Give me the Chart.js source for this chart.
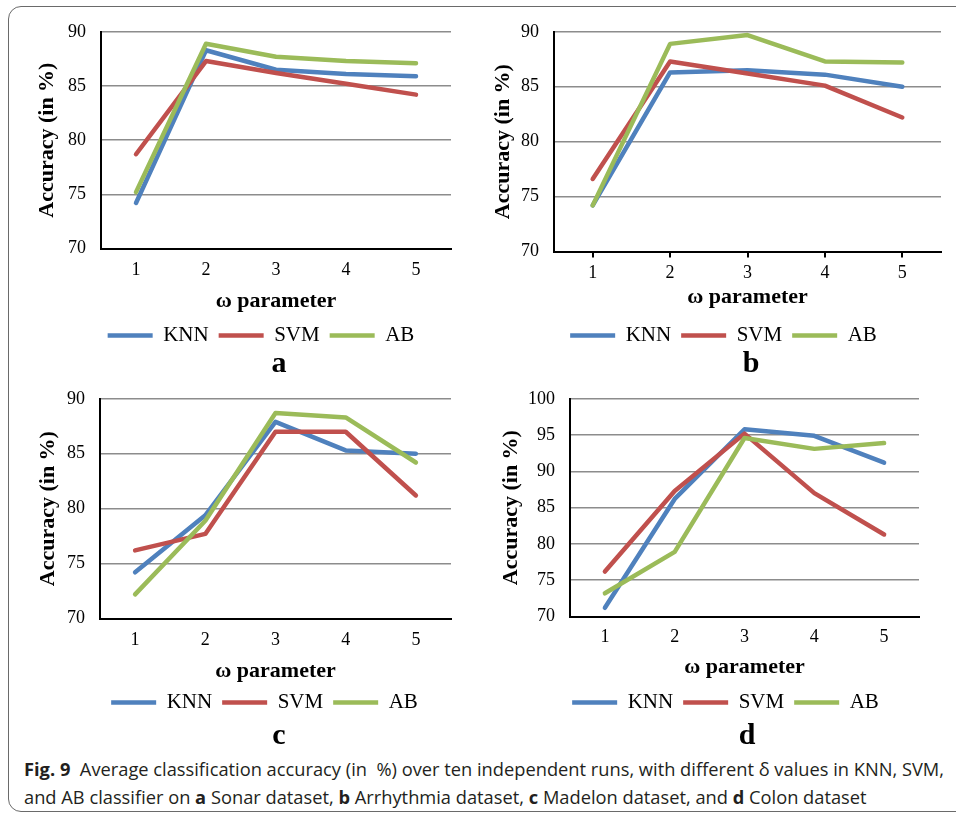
<!DOCTYPE html>
<html>
<head>
<meta charset="utf-8">
<script src="https://cdn.jsdelivr.net/npm/chart.js@4.4.0/dist/chart.umd.min.js"></script>
<style>
  body { margin: 0; background: #fff; width: 956px; height: 817px; overflow: hidden; position: relative; }
  #frame { position: absolute; left: 8px; top: 6px; width: 970px; height: 804px; border: 1.5px solid #6a6a6a; border-radius: 13px; }
  .panel { position: absolute; }
  .tag { position: absolute; font: bold 30px "Liberation Serif", "Times New Roman", serif; color: #000; transform: translate(-50%, -50%); }
  #cap { position: absolute; left: 24px; top: 756px; color: #231f20; font: 18.5px "Open Sans", sans-serif; white-space: nowrap; }
  #cap div { transform-origin: 0 0; height: 28px; line-height: 25px; }
</style>
</head>
<body>
<div id="frame"></div>
<canvas id="chartA" class="panel"></canvas>
<canvas id="chartB" class="panel"></canvas>
<canvas id="chartC" class="panel"></canvas>
<canvas id="chartD" class="panel"></canvas>
<div class="tag" style="left:279px; top:362px;">a</div>
<div class="tag" style="left:751px; top:362px;">b</div>
<div class="tag" style="left:279px; top:734px;">c</div>
<div class="tag" style="left:747px; top:734px;">d</div>
<div id="cap">
  <div id="cap1"><b>Fig. 9</b>&nbsp; Average classification accuracy (in &nbsp;%) over ten independent runs, with different δ values in KNN, SVM,</div>
  <div id="cap2">and AB classifier on <b>a</b> Sonar dataset, <b>b</b> Arrhythmia dataset, <b>c</b> Madelon dataset, and <b>d</b> Colon dataset</div>
</div>
<script>
// values
let omega = ['1', '2', '3', '4', '5']
let seriesNames = ['KNN', 'SVM', 'AB']

let sonarKNN = [74.2, 88.3, 86.5, 86.1, 85.9]
let sonarSVM = [78.7, 87.3, 86.2, 85.2, 84.2]
let sonarAB  = [75.2, 88.9, 87.7, 87.3, 87.1]

let arrhKNN = [74.2, 86.3, 86.5, 86.1, 85.0]
let arrhSVM = [76.6, 87.3, 86.2, 85.1, 82.2]
let arrhAB  = [74.2, 88.9, 89.7, 87.3, 87.2]

let madKNN = [74.2, 79.4, 87.9, 85.3, 85.0]
let madSVM = [76.2, 77.7, 87.0, 87.0, 81.2]
let madAB  = [72.2, 78.9, 88.7, 88.3, 84.2]

let colKNN = [71.2, 86.2, 95.8, 94.9, 91.2]
let colSVM = [76.2, 87.3, 95.2, 87.0, 81.3]
let colAB  = [73.2, 78.9, 94.6, 93.1, 93.9]

let yTicksLow  = [70, 75, 80, 85, 90]
let yTicksHigh = [70, 75, 80, 85, 90, 95, 100]

let colors = ['#4f81bd', '#c0504d', '#9bbb59']
let serif = '"Liberation Serif", "Times New Roman", serif'

function makeChart(id, series, yTicks, geo) {
    let cv = document.getElementById(id)
    cv.width = geo.w
    cv.height = geo.h
    cv.style.left = geo.x + 'px'
    cv.style.top = geo.y + 'px'

    let datasets = []
    for (let i = 0; i < series.length; i++) {
        datasets.push({
            label: seriesNames[i],
            data: series[i],
            borderColor: colors[i],
            backgroundColor: colors[i],
            borderWidth: 4.5,
            pointRadius: 0,
            tension: 0,
            borderCapStyle: 'round',
            borderJoinStyle: 'round',
            order: series.length - i
        })
    }

    // nudge the legend sideways, the printed one isn't centred on the canvas
    let legendShift = {
        id: 'legendShift',
        afterLayout(chart) {
            let lg = chart.legend
            let dx = geo.legendX - (lg.left + lg.right) / 2
            lg.left += dx
            lg.right += dx
        }
    }

    return new Chart(cv, {
        type: 'line',
        data: { labels: omega, datasets: datasets },
        plugins: [legendShift],
        options: {
            responsive: false,
            animation: false,
            layout: { padding: { top: 0, right: 6, bottom: 0, left: 0 } },
            plugins: {
                tooltip: { enabled: false },
                legend: {
                    position: 'bottom',
                    labels: {
                        usePointStyle: true,
                        pointStyle: 'line',
                        pointStyleWidth: 45,
                        boxHeight: 4,
                        padding: 10,
                        color: '#000',
                        font: { family: serif, size: 21 },
                        sort: (a, b) => a.datasetIndex - b.datasetIndex
                    }
                }
            },
            scales: {
                x: {
                    offset: true,
                    grid: {
                        display: geo.xTicks,
                        drawOnChartArea: false,
                        drawTicks: true,
                        tickLength: 6,
                        color: '#000',
                        lineWidth: 2
                    },
                    border: { display: true, color: '#000', width: 2 },
                    ticks: { color: '#000', padding: geo.xPad, font: { family: serif, size: 18 } },
                    title: {
                        display: true,
                        text: 'ω parameter',
                        color: '#000',
                        font: { family: serif, size: 22, weight: 'bold' },
                        padding: { top: 4, bottom: geo.titlePad }
                    },
                    afterFit: (s) => { s.height = geo.xH }
                },
                y: {
                    min: yTicks[0],
                    max: yTicks[yTicks.length - 1],
                    ticks: { stepSize: yTicks[1] - yTicks[0], color: '#000', padding: 15, font: { family: serif, size: 18 } },
                    grid: { color: '#8c8c8c', lineWidth: 1.5, drawTicks: false },
                    border: { display: true, color: '#000', width: 2 },
                    title: {
                        display: true,
                        text: 'Accuracy (in %)',
                        color: '#000',
                        font: { family: serif, size: 22, weight: 'bold' },
                        padding: 4
                    },
                    afterFit: (s) => { s.width = geo.yW }
                }
            }
        }
    })
}

makeChart('chartA', [sonarKNN, sonarSVM, sonarAB], yTicksLow,
    { x: 30, y: 6, w: 427, h: 350, yW: 71, xH: 66.5, xPad: 5, titlePad: 0.3, xTicks: false, legendX: 231 })
makeChart('chartB', [arrhKNN, arrhSVM, arrhAB], yTicksLow,
    { x: 486, y: 6, w: 461, h: 350, yW: 68, xH: 63.5, xPad: 5, titlePad: 4.3, xTicks: true, legendX: 237.5 })
makeChart('chartC', [madKNN, madSVM, madAB], yTicksLow,
    { x: 31, y: 373, w: 426, h: 350, yW: 69, xH: 63.5, xPad: 5, titlePad: -2.7, xTicks: false, legendX: 233.5 })
makeChart('chartD', [colKNN, colSVM, colAB], yTicksHigh,
    { x: 494, y: 373, w: 431, h: 350, yW: 76, xH: 65.5, xPad: 4, titlePad: 1.3, xTicks: false, legendX: 231.5 })

// squeeze the caption to the width of the printed line
let c1 = document.getElementById('cap1')
let c2 = document.getElementById('cap2')
let k = 920 / c1.getBoundingClientRect().width
c1.style.transform = 'scaleX(' + k + ')'
c2.style.transform = 'scaleX(' + k + ')'
</script>
</body>
</html>
